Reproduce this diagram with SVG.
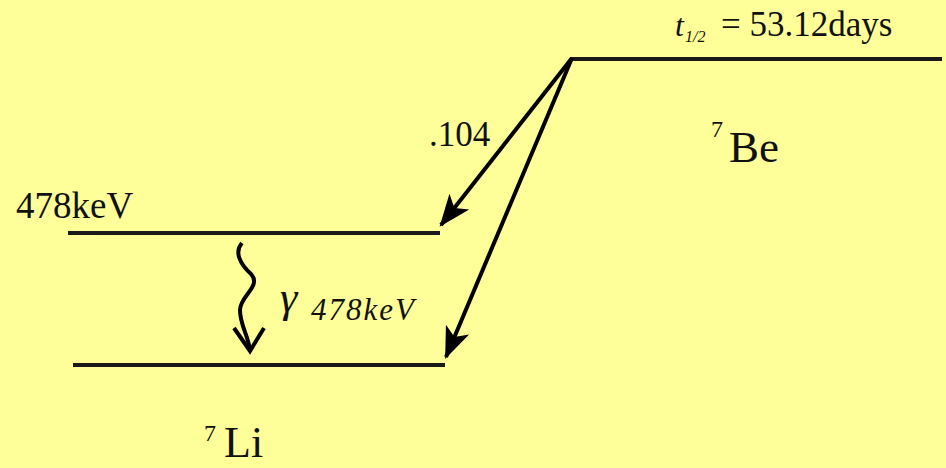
<svg xmlns="http://www.w3.org/2000/svg" width="946" height="468" viewBox="0 0 946 468">
<style>
.lvl{stroke:#1a1a1a;stroke-width:4;fill:none}
.arr{stroke:#000;stroke-width:4;fill:none}
.t{font-family:"Liberation Serif","Times New Roman",serif;fill:#111}
</style>
<defs>
<marker id="ah" markerUnits="userSpaceOnUse" markerWidth="40" markerHeight="40" viewBox="-30 -15 35 30" refX="0" refY="0" orient="auto">
<path d="M2,0 L-26,-11 L-19,0 L-26,11 Z" fill="#000"/>
</marker>
</defs>
<rect width="946" height="468" fill="#FFFF99"/>
<g id="be-level">
<line class="lvl" x1="570" y1="59" x2="942" y2="59"/>
<text class="t" x="675" y="36" font-size="32" font-style="italic">t</text>
<text class="t" x="685" y="42" font-size="16" font-style="italic">1/2</text>
<text class="t" x="721" y="36" font-size="35" fill="#222">= 53.12days</text>
<text class="t" x="711" y="137" font-size="24">7</text>
<text class="t" x="729" y="162" font-size="45">Be</text>
</g>
<g id="li-excited">
<line class="lvl" x1="68" y1="233" x2="440" y2="233"/>
<text class="t" x="16" y="218" font-size="37">478keV</text>
</g>
<g id="li-ground">
<line class="lvl" x1="73" y1="365" x2="445" y2="365"/>
<text class="t" x="204" y="441" font-size="24">7</text>
<text class="t" x="224" y="457" font-size="44">Li</text>
</g>
<g id="connectors">
<line class="arr" x1="572" y1="58" x2="441" y2="225" marker-end="url(#ah)"/>
<line class="arr" x1="572" y1="58" x2="446" y2="357" marker-end="url(#ah)"/>
<text class="t" x="429" y="146" font-size="35">.104</text>
<path class="arr" d="M242,243 C234,252 240,264 251,274 C262,286 240,296 240,310 C240,325 248,335 250,350" stroke-width="5"/>
<path class="arr" d="M234,328 L250,351 L264,328" stroke-width="5"/>
<text class="t" x="280" y="312" font-size="44" font-style="italic">γ</text>
<text class="t" x="311" y="320" font-size="31" font-style="italic" letter-spacing="2" fill="#333">478keV</text>
</g>
</svg>
